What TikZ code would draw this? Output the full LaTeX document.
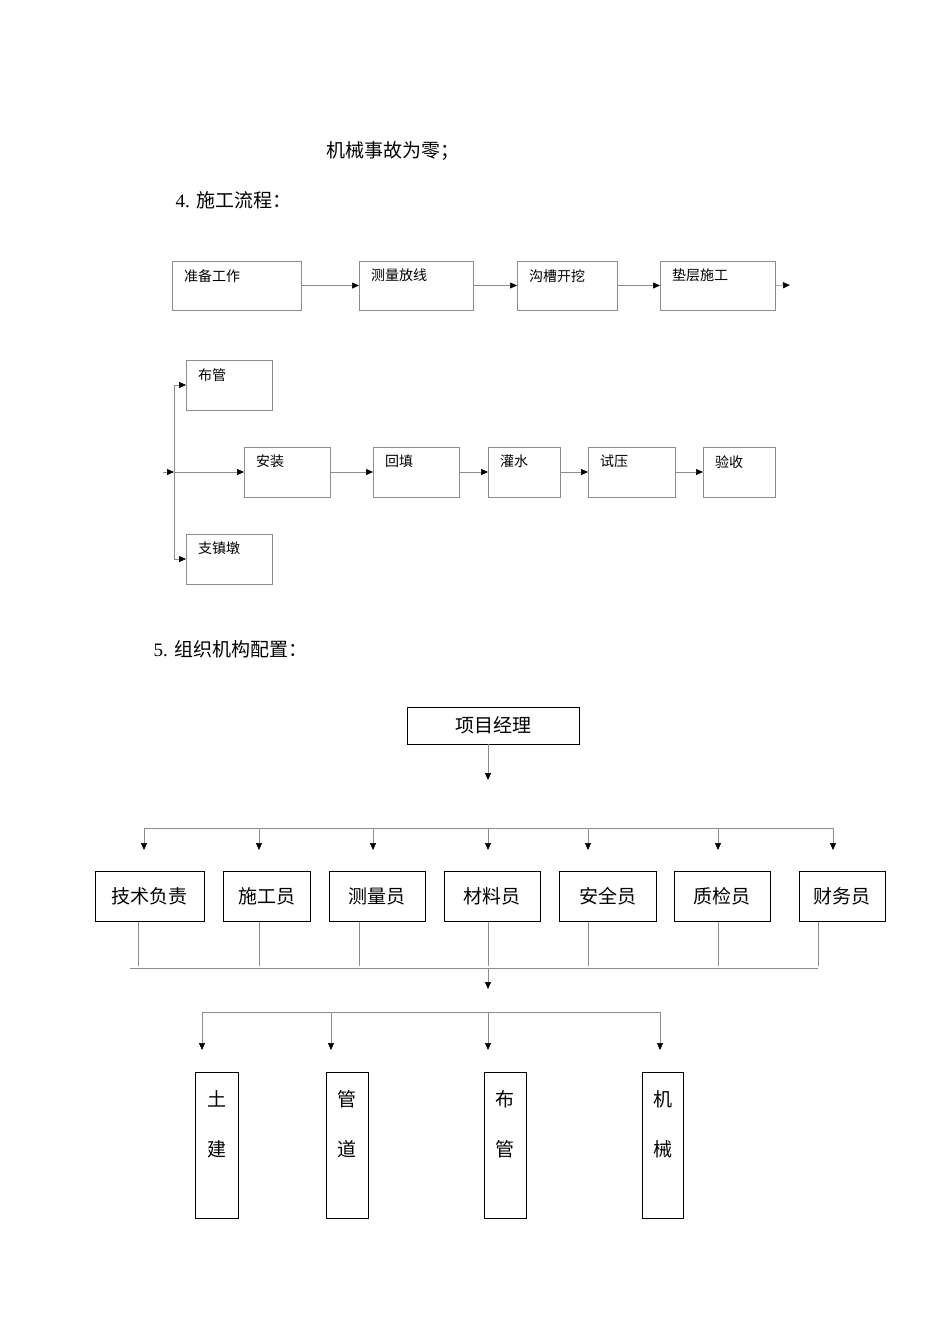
\documentclass[tikz,border=0pt]{standalone}
\usepackage{fontspec}
\setmainfont{Liberation Serif}
\newfontfamily\cjk{Noto Sans CJK SC}
\usetikzlibrary{arrows.meta}
\begin{document}
\begin{tikzpicture}[x=1pt,y=-1pt,
 fb/.style={draw=black!45,line width=0.6pt,inner sep=0pt},
 ob/.style={draw=black,line width=0.8pt,inner sep=0pt},
 ln/.style={draw=black!45,line width=0.6pt},
 ar/.style={ln,-{Triangle[length=7pt,width=6pt,fill=black,color=black]}},
 st/.style={font=\cjk\fontsize{14}{16}\selectfont,anchor=north west,inner sep=0pt},
 bt/.style={font=\cjk\fontsize{19}{22}\selectfont}]
\useasboundingbox[fill=white] (0,0) rectangle (950,1344);
\node[font=\cjk\fontsize{19}{22}\selectfont,anchor=west] (t1) at (323,151) {机械事故为零；};
\node[font=\fontsize{19}{22}\selectfont,anchor=west] (t2) at (172,200) {4. {\cjk 施工流程：}};
% row 1
\foreach \n/\a/\b/\c/\d/\t in {p1/172/261/301/310/准备工作,p2/359/261/473/310/测量放线,p3/517/261/617/310/沟槽开挖,p4/660/261/775/310/垫层施工,
 q0/186/360/272/410/布管,q1/244/447/330/497/安装,q2/373/447/459/497/回填,q3/488/447/560/497/灌水,q4/588/447/675/497/试压,q5/703/447/775/497/验收,q6/186/534/272/584/支镇墩}{
 \draw[fb] (\a,\b) rectangle (\c,\d);
 \coordinate (\n w) at (\a,{(\b+\d)/2}); \coordinate (\n e) at (\c,{(\b+\d)/2});
 \node[st] (\n) at ({\a+12},{\b+8}) {\t};}
\coordinate (e1) at (790,285);
\draw[ar] (p1e) -- (p2w); \draw[ar] (p2e) -- (p3w); \draw[ar] (p3e) -- (p4w); \draw[ar] (p4e) -- (e1);
\coordinate (s0) at (163,472); \coordinate (s1) at (174,472);
\draw[ar] (s0) -- (s1);
\draw[ln] (174,385) -- (174,559);
\draw[ar] (174,385) -- (q0w); \draw[ar] (s1) -- (q1w); \draw[ar] (174,559) -- (q6w);
\draw[ar] (q1e) -- (q2w); \draw[ar] (q2e) -- (q3w); \draw[ar] (q3e) -- (q4w); \draw[ar] (q4e) -- (q5w);
\node[font=\fontsize{19}{22}\selectfont,anchor=west] (t3) at (150,649) {5. {\cjk 组织机构配置：}};
% org
\node[ob,bt,minimum width=172pt,minimum height=37pt] (pm) at (493,725.5) {项目经理};
\coordinate (a1) at (488,780);
\draw[ar] (488,744) -- (a1);
\draw[ln] (144,828) -- (833,828);
\foreach \n/\a/\c/\x/\t in {r1/95/204/144/技术负责,r2/223/310/259/施工员,r3/329/425/373/测量员,r4/444/540/488/材料员,r5/559/656/588/安全员,r6/674/770/718/质检员,r7/799/885/833/财务员}{
 \node[ob,bt,minimum width={\c-\a},minimum height=50pt] (\n) at ({(\a+\c)/2},896) {\t};
 \draw[ar] (\x,828) -- (\x,850);}
\foreach \x in {138,259,359,488,588,718,818}{\draw[ln] (\x,922) -- (\x,966);}
\draw[ln] (130,968) -- (818,968);
\draw[ar] (488,968) -- (488,989);
\draw[ln] (202,1012) -- (660,1012);
\foreach \n/\a/\c/\x/\u/\v in {v1/195/238/202/土/建,v2/326/368/331/管/道,v3/484/526/488/布/管,v4/642/683/660/机/械}{
 \draw[ob] (\a,1072) rectangle (\c,1218);
 \node[bt] (\n a) at ({(\a+\c)/2},1099) {\u};
 \node[bt] (\n b) at ({(\a+\c)/2},1149) {\v};
 \draw[ar] (\x,1012) -- (\x,1050);}
\end{tikzpicture}
\end{document}
